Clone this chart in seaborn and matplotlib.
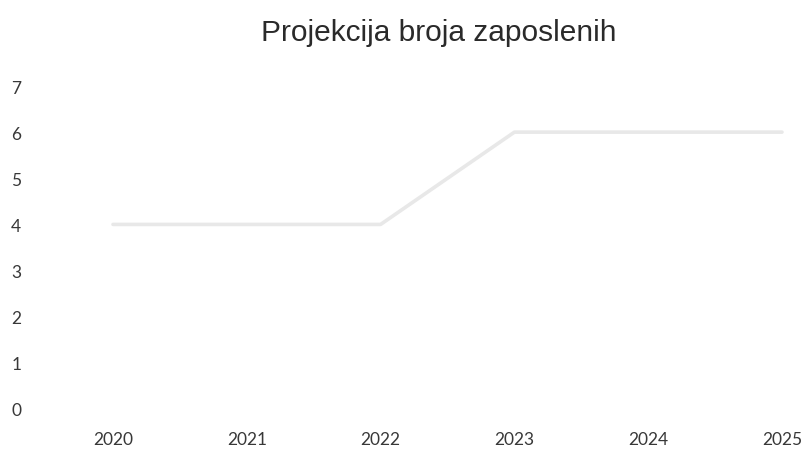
import pandas as pd
import matplotlib.pyplot as plt
import seaborn as sns

# Data
years = [2020, 2021, 2022, 2023, 2024, 2025]
employees = [4, 4, 4, 6, 6, 6]
y_ticks = [0, 1, 2, 3, 4, 5, 6, 7]

df = pd.DataFrame({'Godina': years, 'Zaposleni': employees})

sns.set_style('white')
plt.rcParams['font.family'] = ['Lato', 'DejaVu Sans']

fig = plt.figure(figsize=(8.1, 4.52), dpi=100)
ax = fig.add_axes([113 / 810, 1 - 410 / 452, (782 - 113) / 810, (410 - 87) / 452])

sns.lineplot(data=df, x='Godina', y='Zaposleni', ax=ax, color='#e8e8e8',
             linewidth=2.6, clip_on=False)

ax.set_xlim(2020, 2025)
ax.set_ylim(0, 7)
ax.set_xticks(years)
ax.set_yticks(y_ticks)
ax.set_xticklabels([str(y) for y in years], fontsize=12.5, color='#383838')
ax.set_yticklabels([str(v) for v in y_ticks], fontsize=12.5, color='#383838')
ax.tick_params(axis='y', length=0, pad=66)
ax.tick_params(axis='x', length=0, pad=16)
ax.set_xlabel('')
ax.set_ylabel('')
for s in ax.spines.values():
    s.set_visible(False)
ax.grid(False)

fig.text(439 / 810, 1 - 33 / 452, 'Projekcija broja zaposlenih', ha='center', va='center',
         fontsize=21.5, family='Liberation Sans', color='#2a2a2a')

fig.savefig('out.png', dpi=100)
